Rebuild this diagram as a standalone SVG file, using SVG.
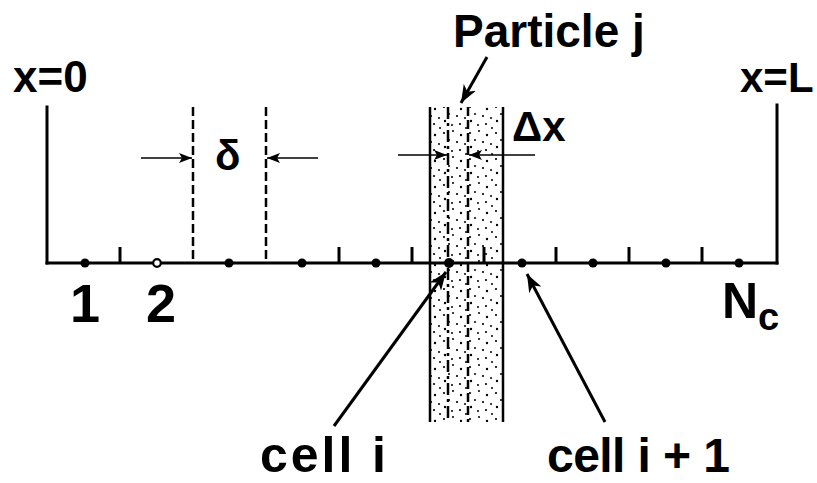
<svg xmlns="http://www.w3.org/2000/svg" width="817" height="483" viewBox="0 0 817 483">
<style>
.t{font-family:"Liberation Sans",Arial,sans-serif;font-weight:bold;fill:#000}
.ln{stroke:#000;stroke-width:3;fill:none;stroke-linecap:square}
.tk{stroke:#000;stroke-width:3;fill:none}
.ds{stroke:#000;stroke-width:2.5;fill:none;stroke-dasharray:9 4}
.bd{stroke:#000;stroke-width:2.5;fill:none}
.ar{stroke:#000;stroke-width:3;fill:none}
.thin{stroke:#000;stroke-width:1.6;fill:none}
</style>
<defs>
<marker id="big" markerUnits="userSpaceOnUse" markerWidth="20" markerHeight="14" refX="18" refY="7" orient="auto">
<path d="M0,0 L18,7 L0,14 L5,7 Z" fill="#000"/>
</marker>
<marker id="sm" markerUnits="userSpaceOnUse" markerWidth="14" markerHeight="10" refX="13" refY="5" orient="auto">
<path d="M0,0 L13,5 L0,10 L3,5 Z" fill="#000"/>
</marker>
<pattern id="stip" patternUnits="userSpaceOnUse" width="26" height="26">
<circle cx="2" cy="3" r="1.1" fill="#000"/>
<circle cx="11" cy="1" r="1" fill="#000"/>
<circle cx="19" cy="5" r="1.2" fill="#000"/>
<circle cx="7" cy="10" r="1" fill="#000"/>
<circle cx="15" cy="12" r="1.1" fill="#000"/>
<circle cx="23" cy="14" r="1" fill="#000"/>
<circle cx="3" cy="17" r="1.2" fill="#000"/>
<circle cx="10" cy="21" r="1" fill="#000"/>
<circle cx="18" cy="20" r="1.1" fill="#000"/>
<circle cx="24" cy="24" r="1" fill="#000"/>
</pattern>
</defs>
<rect width="817" height="483" fill="#fff"/>

<g id="band">
<rect x="430" y="107" width="73" height="315" fill="url(#stip)"/>
<line class="bd" x1="430" y1="107" x2="430" y2="422"/>
<line class="bd" x1="503" y1="107" x2="503" y2="422"/>
<line class="ds" x1="448" y1="107" x2="448" y2="422" style="stroke-dasharray:12 4 3 4"/>
<line class="ds" x1="468" y1="107" x2="468" y2="422"/>
</g>

<g id="domain">
<line class="ln" x1="47" y1="107" x2="47" y2="263"/>
<line class="ln" x1="777" y1="105" x2="777" y2="263"/>
<line class="ln" x1="47" y1="263" x2="777" y2="263"/>
</g>

<g id="ticks">
<line class="tk" x1="120" y1="247" x2="120" y2="263"/>
<line class="tk" x1="339" y1="247" x2="339" y2="263"/>
<line class="tk" x1="412" y1="247" x2="412" y2="263"/>
<line class="tk" x1="484" y1="247" x2="484" y2="263"/>
<line class="tk" x1="556" y1="247" x2="556" y2="263"/>
<line class="tk" x1="629" y1="247" x2="629" y2="263"/>
<line class="tk" x1="702" y1="247" x2="702" y2="263"/>
</g>

<g id="delta-lines">
<line class="ds" x1="193" y1="107" x2="193" y2="263"/>
<line class="ds" x1="266" y1="107" x2="266" y2="263"/>
</g>

<g id="cell-centers">
<circle cx="85" cy="263" r="4.5" fill="#000"/>
<circle cx="157" cy="263" r="3.8" fill="#fff" stroke="#000" stroke-width="2.2"/>
<circle cx="229" cy="263" r="4.5" fill="#000"/>
<circle cx="302" cy="263" r="4.5" fill="#000"/>
<circle cx="376" cy="263" r="4.5" fill="#000"/>
<circle cx="449" cy="263" r="5" fill="#000"/>
<circle cx="522" cy="263" r="4.5" fill="#000"/>
<circle cx="593" cy="263" r="4.5" fill="#000"/>
<circle cx="666" cy="263" r="4.5" fill="#000"/>
<circle cx="739" cy="263" r="4.5" fill="#000"/>
</g>

<g id="connectors">
<line class="thin" x1="141" y1="158" x2="192" y2="158" marker-end="url(#sm)"/>
<line class="thin" x1="318" y1="158" x2="267" y2="158" marker-end="url(#sm)"/>
<line class="thin" x1="398" y1="155" x2="447" y2="155" marker-end="url(#sm)"/>
<line class="thin" x1="535" y1="155" x2="469" y2="155" marker-end="url(#sm)"/>
<line class="ar" x1="487" y1="57" x2="461" y2="103" marker-end="url(#big)"/>
<line class="ar" x1="334" y1="426" x2="446" y2="272" marker-end="url(#big)"/>
<line class="ar" x1="605" y1="422" x2="527" y2="274" marker-end="url(#big)"/>
</g>

<g id="labels">
<text class="t" x="13" y="92" font-size="44">x=0</text>
<text class="t" x="740" y="92" font-size="42">x=L</text>
<text class="t" x="453" y="47" font-size="46">Particle j</text>
<text class="t" x="512" y="141" font-size="42">Δx</text>
<text class="t" x="215" y="170" font-size="42">δ</text>
<text class="t" x="85" y="322" font-size="54" text-anchor="middle">1</text>
<text class="t" x="161" y="322" font-size="54" text-anchor="middle">2</text>
<text class="t" x="722" y="318" font-size="50">N<tspan font-size="38" dy="12">c</tspan></text>
<text class="t" x="260" y="472" font-size="50" textLength="126" lengthAdjust="spacing">cell i</text>
<text class="t" x="547" y="472" font-size="48" textLength="183" lengthAdjust="spacing">cell i + 1</text>
</g>
</svg>
